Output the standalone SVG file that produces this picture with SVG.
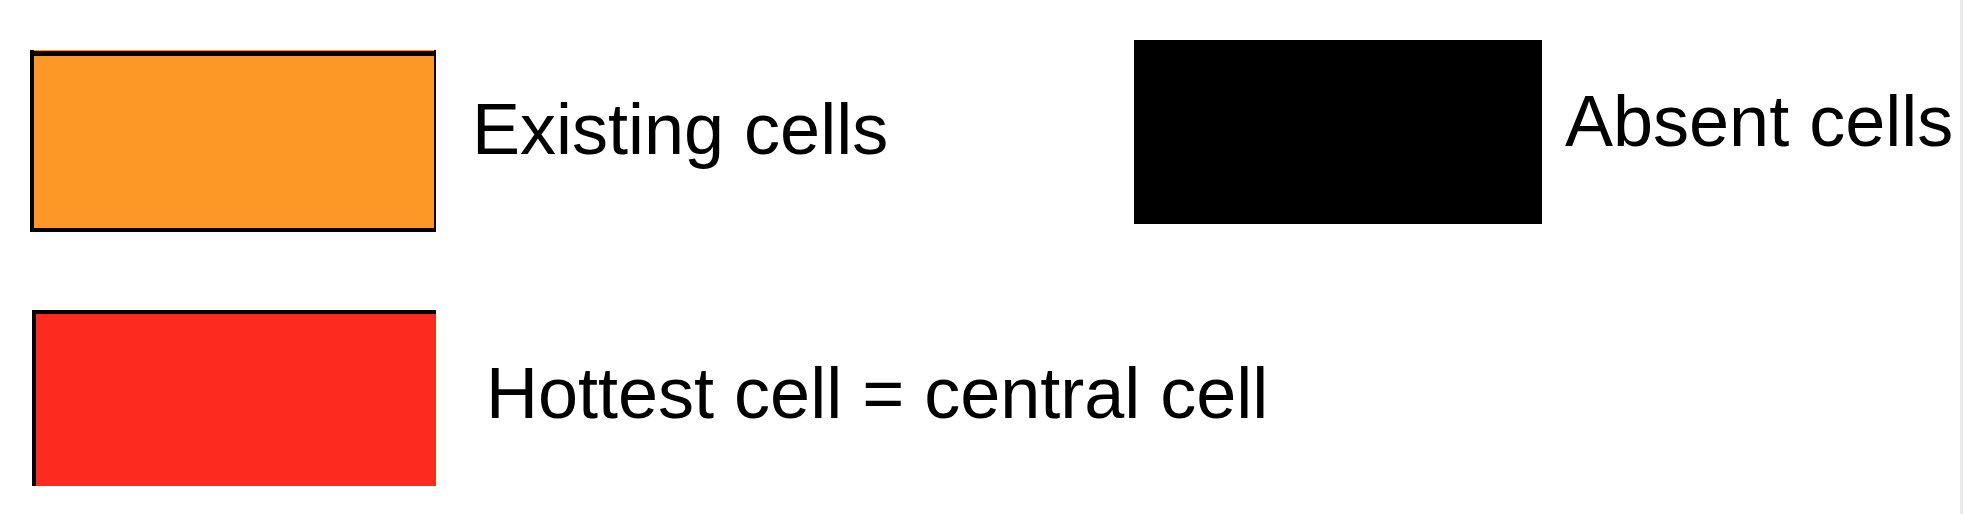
<svg xmlns="http://www.w3.org/2000/svg" width="1964" height="514" viewBox="0 0 1964 514">
<style>
.lbl{font-family:"Liberation Sans",Arial,sans-serif;font-size:72px;fill:#000}
.edge{fill:#000}
</style>
<rect width="1964" height="514" fill="#fff"/>
<rect x="1960" y="0" width="3" height="514" fill="#ebebeb"/>
<g id="existing">
<rect x="30" y="50" width="406" height="182" fill="#fd9827"/>
<rect class="edge" x="30" y="50" width="4" height="182"/>
<rect class="edge" x="434" y="50" width="2" height="182"/>
<rect class="edge" x="30" y="228" width="406" height="4"/>
<rect class="edge" x="34" y="51" width="400" height="5"/>
<text class="lbl" x="472" y="154">Existing cells</text>
</g>
<g id="absent">
<rect x="1134" y="40" width="408" height="184" fill="#000"/>
<text class="lbl" x="1565" y="146">Absent cells</text>
</g>
<g id="hottest">
<rect x="36" y="314" width="400" height="172" fill="#fd2a1f"/>
<rect class="edge" x="32" y="310" width="4" height="176"/>
<rect class="edge" x="32" y="310" width="404" height="4"/>
<text class="lbl" x="486" y="418">Hottest cell = central cell</text>
</g>
<g id="connectors"/>
</svg>
